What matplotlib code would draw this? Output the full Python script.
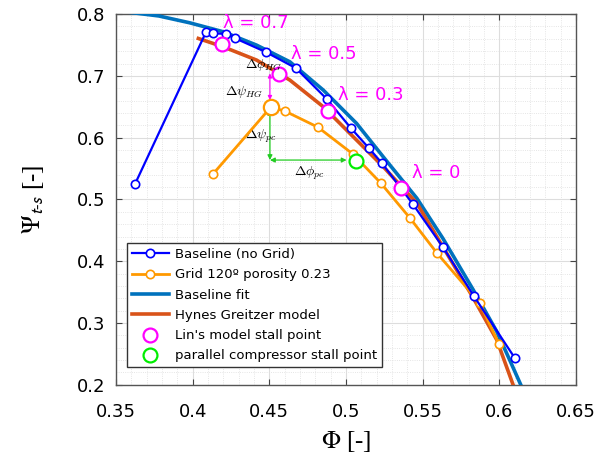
import matplotlib.pyplot as plt
from matplotlib.ticker import MultipleLocator

# Baseline (no grid) measurements
base_phi = [0.3624, 0.4087, 0.4132, 0.4217, 0.4276, 0.4478, 0.4673, 0.4875,
            0.5032, 0.5149, 0.5234, 0.5436, 0.5632, 0.5834, 0.6101]
base_psi = [0.525, 0.771, 0.769, 0.768, 0.761, 0.7385, 0.7126, 0.6625,
            0.6155, 0.5832, 0.5589, 0.4926, 0.4230, 0.3437, 0.2434]

# Grid 120 deg porosity 0.23
grid_phi = [0.4132, 0.451, 0.4602, 0.4817, 0.5045, 0.5227, 0.5417, 0.5593, 0.5873, 0.5997]
grid_psi = [0.541, 0.6495, 0.643, 0.617, 0.5735, 0.5265, 0.470, 0.4133, 0.3324, 0.266]

# Baseline fit curve
fit_phi = [0.3585, 0.378, 0.398, 0.420, 0.4417, 0.4634, 0.4852, 0.5069, 0.5243,
           0.5462, 0.5632, 0.5827, 0.5984, 0.6062, 0.614]
fit_psi = [0.803, 0.797, 0.786, 0.7714, 0.7498, 0.7228, 0.677, 0.6231, 0.569,
           0.502, 0.437, 0.355, 0.2860, 0.2434, 0.200]

# Hynes Greitzer model curve
hg_phi = [0.4037, 0.420, 0.4417, 0.4634, 0.4852, 0.5069, 0.5243, 0.5462, 0.5632,
          0.5827, 0.5984, 0.609]
hg_psi = [0.7606, 0.747, 0.7256, 0.6932, 0.650, 0.5961, 0.553, 0.494, 0.4234,
          0.342, 0.2725, 0.200]

# Lin's model stall points and labels
lin_phi = [0.4191, 0.4563, 0.4882, 0.5358]
lin_psi = [0.7514, 0.7029, 0.643, 0.5184]
lam_labels = ['λ = 0.7', 'λ = 0.5', 'λ = 0.3', 'λ = 0']
lam_pos = [(0.4198, 0.7854), (0.4641, 0.7350), (0.4949, 0.669), (0.543, 0.5427)]

# parallel compressor stall point
pc_phi = [0.5065]
pc_psi = [0.5621]

fig, ax = plt.subplots(figsize=(5.95, 4.71), dpi=100)
fig.subplots_adjust(left=0.195, right=0.968, top=0.970, bottom=0.183)

ax.plot(base_phi, base_psi, '-o', color='#0000ff', lw=1.6, ms=6, mfc='white', mew=1.2,
        label='Baseline (no Grid)', zorder=5)
ax.plot(grid_phi, grid_psi, '-o', color='#ff9900', lw=2.0, ms=6, mfc='white', mew=1.2,
        label='Grid 120º porosity 0.23', zorder=4)
ax.plot(grid_phi[1], grid_psi[1], 'o', color='#ff9900', ms=11, mfc='white', mew=1.6, zorder=6)
ax.plot(fit_phi, fit_psi, '-', color='#0072BD', lw=2.6, label='Baseline fit', zorder=3)
ax.plot(hg_phi, hg_psi, '-', color='#D95319', lw=2.6, label='Hynes Greitzer model', zorder=3)
ax.plot(lin_phi, lin_psi, 'o', color='#ff00ff', ms=10, mfc='white', mew=1.6,
        label="Lin's model stall point", zorder=7)
ax.plot(pc_phi, pc_psi, 'o', color='#00ee00', ms=10, mfc='white', mew=1.6,
        label='parallel compressor stall point', zorder=7)

for txt, (x, y) in zip(lam_labels, lam_pos):
    ax.text(x, y, txt, color='#ff00ff', fontsize=13, va='center', ha='left', zorder=8)

# delta annotations
ax.annotate('', xy=(0.4504, 0.661), xytext=(0.4504, 0.704),
            arrowprops=dict(arrowstyle='<|-|>', color='#ff00ff', lw=0.8,
                            mutation_scale=6, shrinkA=0, shrinkB=0))
ax.annotate('', xy=(0.4504, 0.6447), xytext=(0.4504, 0.5638),
            arrowprops=dict(arrowstyle='<|-|>', color='#22cc22', lw=0.9,
                            mutation_scale=7, shrinkA=0, shrinkB=0))
ax.annotate('', xy=(0.5004, 0.5638), xytext=(0.4504, 0.5638),
            arrowprops=dict(arrowstyle='<|-|>', color='#22cc22', lw=0.9,
                            mutation_scale=7, shrinkA=0, shrinkB=0))
ax.text(0.4341, 0.7175, r'$\Delta\phi_{HG}$', fontsize=10, va='center', math_fontfamily='cm', zorder=9)
ax.text(0.4211, 0.6743, r'$\Delta\psi_{HG}$', fontsize=10, va='center', math_fontfamily='cm')
ax.text(0.4340, 0.6015, r'$\Delta\psi_{pc}$', fontsize=10, va='center', math_fontfamily='cm')
ax.text(0.4660, 0.5427, r'$\Delta\phi_{pc}$', fontsize=10, va='center', math_fontfamily='cm')

ax.set_xlim(0.35, 0.65)
ax.set_ylim(0.2, 0.8)
ax.xaxis.set_minor_locator(MultipleLocator(0.01))
ax.yaxis.set_minor_locator(MultipleLocator(0.02))
ax.set_xticks([0.35, 0.4, 0.45, 0.5, 0.55, 0.6, 0.65])
ax.set_xticklabels(['0.35', '0.4', '0.45', '0.5', '0.55', '0.6', '0.65'])
ax.set_yticks([0.2, 0.3, 0.4, 0.5, 0.6, 0.7, 0.8])
ax.set_yticklabels(['0.2', '0.3', '0.4', '0.5', '0.6', '0.7', '0.8'])
ax.grid(True, which='major', color='#dddddd', lw=0.8)
ax.grid(True, which='minor', color='#dddddd', lw=0.6, ls=':')
ax.set_axisbelow(True)
ax.tick_params(which='both', direction='in', top=True, right=True, labelsize=13,
               color='#444444', pad=8)
ax.tick_params(axis='x', pad=13)
ax.tick_params(which='major', length=4)
ax.tick_params(which='minor', length=0)
for s in ax.spines.values():
    s.set_color('#555555')
    s.set_linewidth(1.0)

ax.set_xlabel(r'$\Phi$ [-]', fontsize=18, family='Liberation Serif', math_fontfamily='stix', labelpad=6)
ax.set_ylabel(r'$\Psi_{\mathsf{t\text{-}s}}$ [-]', fontsize=18, family='Liberation Serif',
              math_fontfamily='stix', labelpad=22)

leg = ax.legend(loc='lower left', bbox_to_anchor=(0.024, 0.048), borderaxespad=0,
                fontsize=9.5, fancybox=False, edgecolor='#333333', framealpha=1,
                handlelength=2.8, labelspacing=0.55, borderpad=0.35, handletextpad=0.5)
leg.get_frame().set_linewidth(1.0)

fig.savefig('out.png', dpi=100)
